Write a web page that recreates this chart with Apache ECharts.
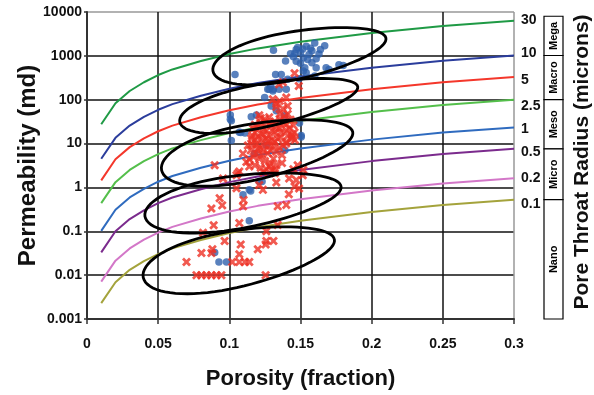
<!DOCTYPE html>
<html><head><meta charset="utf-8">
<script src="https://cdn.jsdelivr.net/npm/echarts@6/dist/echarts.min.js"></script>
<style>html,body{margin:0;padding:0;background:#fff}#c{width:594px;height:395px}</style>
</head><body><div id="c"></div>
<script>
// ---------- data ----------
const porosity = [0.01,0.02,0.03,0.04,0.05,0.06,0.08,0.10,0.12,0.15,0.20,0.25,0.30];
const radiusLabels = ['30','10','5','2.5','1','0.5','0.2','0.1'];
const perm30  = [27.5,83,158,250,365,490,760,1100,1480,2090,3310,4790,6300];
const perm10  = [4.5,13.5,25.7,40.7,58.9,79.4,123,178,240,339,537,776,1020];
const perm5   = [1.45,4.4,8.3,13.2,19.1,25.7,39.8,57.5,77.6,110,174,251,331];
const perm2_5 = [0.44,1.32,2.51,3.98,5.75,7.76,12.0,17.4,23.4,33.1,52.5,75.9,100];
const perm1   = [0.102,0.31,0.59,0.93,1.35,1.82,2.82,4.07,5.5,7.76,12.3,17.8,23.4];
const perm0_5 = [0.033,0.1,0.19,0.3,0.44,0.59,0.91,1.32,1.78,2.51,3.98,5.75,7.6];
const perm0_2 = [0.0071,0.0214,0.0407,0.0646,0.0933,0.126,0.195,0.282,0.38,0.537,0.851,1.23,1.62];
const perm0_1 = [0.0023,0.0069,0.0132,0.0209,0.0302,0.0407,0.0631,0.0912,0.123,0.174,0.275,0.398,0.525];

const xTickLabels = ['0','0.05','0.1','0.15','0.2','0.25','0.3'];
const yTickLabels = ['0.001','0.01','0.1','1','10','100','1000','10000'];

const zoneNames  = ['Mega','Macro','Meso','Micro','Nano'];
const zoneTop    = [8000,1020,100,7.6,0.525];
const zoneBottom = [1020,100,7.6,0.525,0.001];

const ellipseLeft  = [[0.0885,449],[0.0652,30.8],[0.0524,2.48],[0.0407,0.220],[0.0395,0.0089]];
const ellipseRight = [[0.210,2547],[0.1902,199],[0.1867,18.3],[0.1785,1.05],[0.1738,0.0653]];
const ellipseTop   = [[0.1493,3800],[0.1277,245],[0.1195,29.7],[0.1096,1.94],[0.1067,0.108]];

const bluePoints = [
 [0.104,378],[0.131,1340],[0.1395,760],[0.143,1110],[0.147,1390],[0.1516,1440],[0.154,1650],[0.156,1070],
 [0.160,1960],[0.167,1710],[0.147,755],[0.155,825],[0.161,855],[0.161,536],[0.153,536],[0.152,449],
 [0.168,536],[0.170,490],[0.177,630],[0.180,600],[0.1325,378],[0.1365,378],[0.141,292],[0.149,300],
 [0.154,413],[0.160,347],[0.150,1200],[0.158,1300],[0.145,950],[0.163,1100],[0.152,900],[0.148,1550],
 [0.157,1500],[0.150,680],[0.158,700],[0.164,1400],[0.146,1150],
 [0.127,173],[0.1306,159],[0.129,204],[0.128,174],[0.131,174],[0.135,174],[0.140,174],[0.1248,112],
 [0.1294,72],[0.133,56],[0.1007,45],[0.1007,36],[0.1154,41],[0.119,45],[0.1388,43],[0.1493,29.5],
 [0.1505,15.3],[0.107,18.2],[0.1014,33],[0.108,18],[0.111,17.4],[0.1014,11.8],[0.1505,14.2],
 [0.139,7.0],[0.126,9.1],[0.1178,5.9],[0.121,1.36],[0.123,1.36],[0.114,0.88],[0.1096,0.68],[0.115,0.83],
 [0.114,0.175],[0.0897,0.033],[0.0927,0.020],[0.098,0.020]
];
const redPoints = [
 [0.1458,400],[0.1488,205],[0.135,224],[0.1376,250],[0.1306,102],[0.133,80],[0.1353,94],[0.140,112],
 [0.141,72],[0.1376,62],[0.141,47],[0.133,68],[0.1353,47],[0.121,44],[0.1248,36],[0.1294,26],[0.1353,22],
 [0.140,20],[0.1458,18],[0.141,15],
 [0.1166,22],[0.1154,13],[0.118,18],[0.120,25],[0.122,30],[0.124,16],[0.126,20],[0.128,28],[0.130,12],
 [0.132,18],[0.134,24],[0.136,14],[0.138,30],[0.140,10],[0.142,22],[0.144,16],[0.146,12],[0.119,10],
 [0.121,8],[0.123,12],[0.125,9],[0.127,11],[0.129,7],[0.131,9],[0.133,6.5],[0.135,8],[0.137,5.5],
 [0.115,7],[0.117,5],[0.119,6],[0.121,4.5],[0.123,5.5],[0.125,4],[0.127,6],[0.129,3.5],[0.131,4.5],
 [0.133,3.2],[0.113,9],[0.116,15],[0.118,12],[0.120,14],[0.122,17],[0.124,22],[0.126,13],[0.128,15],
 [0.130,20],[0.132,11],[0.134,13],[0.136,18],[0.138,9],[0.1096,5.9],[0.112,3.8],[0.114,3],[0.118,3.2],
 [0.122,2.8],[0.126,2.6],[0.130,2.4],[0.114,4.4],[0.116,9.5],[0.124,7],[0.128,9],[0.120,7.5],[0.126,31],
 [0.118,27],[0.132,32],[0.128,40],[0.122,38],[0.136,36],[0.140,28],[0.143,35],[0.139,42],[0.145,26],
 [0.1446,14],[0.140,11],[0.1435,13],[0.124,2.2],[0.128,3],[0.137,3.6],[0.132,2.5],
 [0.1516,1.9],[0.147,1.48],[0.1458,1.05],[0.149,0.95],[0.142,1.6],[0.1418,0.70],[0.133,1.3],[0.121,1.14],
 [0.1236,0.88],[0.132,2.1],[0.148,3.2],[0.152,2.5],[0.145,2.6],
 [0.0897,3.2],[0.0956,1.6],[0.106,2.1],[0.105,1.9],[0.107,2.3],[0.105,0.96],[0.0932,0.57],[0.095,0.39],
 [0.0874,0.33],[0.110,0.52],[0.1096,0.37],[0.134,0.37],[0.140,0.40],[0.107,0.155],[0.089,0.138],
 [0.0815,0.093],[0.134,0.14],[0.126,0.10],[0.0967,0.060],[0.126,0.060],[0.131,0.060],[0.1255,0.050],
 [0.108,0.050],[0.120,0.039],[0.0874,0.032],[0.0881,0.039],[0.0804,0.032],[0.107,0.030],[0.0699,0.020],
 [0.102,0.020],[0.107,0.020],[0.111,0.020],[0.114,0.020],[0.0769,0.01],[0.0804,0.01],[0.0839,0.01],
 [0.0874,0.01],[0.0909,0.01],[0.0944,0.01],[0.1255,0.01]
];

// ---------- styling ----------
const FONT = "'Liberation Sans', Arial, sans-serif";
const permCurves = [perm30,perm10,perm5,perm2_5,perm1,perm0_5,perm0_2,perm0_1];
const curveColors = ['#1f9a45','#2b3d9c','#f4372b','#54bf4b','#2f6bbf','#7b2b8d','#d377c8','#a4a33c'];
const labelOffsets = [[0,-1],[0,-2],[0,3],[0,6],[0,2],[0,3],[0,0],[0,4]];
const X_SYMBOL = 'path://M0,2.2 L2.2,0 L5,2.8 L7.8,0 L10,2.2 L7.2,5 L10,7.8 L7.8,10 L5,7.2 L2.2,10 L0,7.8 L2.8,5 Z';

function renderEllipse(params, api){
  const i = params.dataIndex;
  const pL = api.coord(ellipseLeft[i]), pR = api.coord(ellipseRight[i]), pT = api.coord(ellipseTop[i]);
  const cx = (pL[0]+pR[0])/2, cy = (pL[1]+pR[1])/2;
  const dx = pR[0]-pL[0], dy = pR[1]-pL[1];
  const a = Math.hypot(dx,dy)/2;
  const ux = dx/(2*a), uy = dy/(2*a);
  const vx = -uy, vy = ux;
  const sn = Math.abs(uy), cs = Math.abs(ux);
  const h = Math.abs(cy - pT[1]);
  const b = cs/Math.sqrt(1/(h*h) - (sn*sn)/(a*a));
  const pts = [];
  for (let k=0;k<80;k++){
    const t = k/80*Math.PI*2;
    const s = b*Math.sin(t)*(1-0.15*Math.cos(t));
    pts.push([cx + a*Math.cos(t)*ux + s*vx, cy + a*Math.cos(t)*uy + s*vy]);
  }
  return {type:'polygon', shape:{points:pts}, style:{fill:'none', stroke:'#000', lineWidth:2.8}};
}

function renderZone(params, api){
  const i = params.dataIndex;
  const top = api.coord([0.3, zoneTop[i]])[1];
  const bot = api.coord([0.3, zoneBottom[i]])[1];
  const x0 = api.coord([0.3, 1])[0] + 30;
  return {type:'group', children:[
    {type:'rect', shape:{x:x0, y:top, width:19, height:bot-top}, style:{fill:'#fff', stroke:'#000', lineWidth:1.2}},
    {type:'text', x:x0+9.5, y:(top+bot)/2, rotation:Math.PI/2,
     style:{text:zoneNames[i], fill:'#000', font:'bold 11px '+FONT, align:'center', verticalAlign:'middle'}}
  ]};
}

const series = [];
permCurves.forEach((arr, ci) => {
  series.push({
    type:'line', name: radiusLabels[ci],
    data: porosity.map((p,i)=>[p, arr[i]]),
    showSymbol:false, silent:true,
    lineStyle:{color:curveColors[ci], width:2},
    endLabel:{show:true, formatter:radiusLabels[ci], color:'#111', fontSize:14, fontWeight:'bold',
      fontFamily:FONT, distance:7, offset:labelOffsets[ci]},
    z:2
  });
});
series.push({type:'scatter', data:bluePoints, symbol:'circle', symbolSize:7.5,
  itemStyle:{color:'#2f62ad'}, z:3});
series.push({type:'scatter', data:redPoints, symbol:X_SYMBOL, symbolSize:9,
  itemStyle:{color:'#ee3124'}, z:4});
series.push({type:'custom', data:ellipseLeft.map((p,i)=>[p[0],p[1]]), renderItem:renderEllipse, clip:false, z:5, silent:true});
series.push({type:'custom', data:zoneNames.map((n,i)=>[0.3, zoneTop[i]]), renderItem:renderZone, clip:false, z:5, silent:true});

const gridColX = ['#111','#111','#111','#111','#111','#111','#999'];
const gridColY = ['#111','#111','#111','#111','#111','#111','#111','#999'];

const option = {
  animation:false,
  backgroundColor:'#fff',
  grid:{left:87, right:80, top:12, bottom:73},
  xAxis:{
    type:'value', min:0, max:0.3, interval:0.05,
    name:'Porosity (fraction)', nameLocation:'middle', nameGap:49,
    nameTextStyle:{fontSize:22, fontWeight:'bold', color:'#111', fontFamily:FONT},
    axisLine:{show:true, lineStyle:{color:'#333', width:2}},
    axisTick:{show:true, length:5, lineStyle:{color:'#333', width:1.5}},
    axisLabel:{fontSize:14, fontWeight:'bold', color:'#111', fontFamily:FONT, margin:18,
      formatter:(v)=>xTickLabels[Math.round(v*20)]},
    splitLine:{show:true, lineStyle:{color:gridColX, width:1.5}}
  },
  yAxis:{
    type:'log', logBase:10, min:0.001, max:10000, splitNumber:7,
    name:'Permeability (md)', nameLocation:'middle', nameGap:47, nameRotate:90,
    nameMoveOverlap:false,
    nameTextStyle:{fontSize:24, fontWeight:'bold', color:'#111', fontFamily:FONT},
    axisLine:{show:true, lineStyle:{color:'#333', width:2}},
    axisTick:{show:true, length:3, lineStyle:{color:'#333', width:1.5}},
    axisLabel:{fontSize:14, fontWeight:'bold', color:'#111', fontFamily:FONT, margin:5,
      formatter:(v)=>yTickLabels[Math.round(Math.log10(v))+3]},
    splitLine:{show:true, lineStyle:{color:gridColY, width:1.5}},
    minorTick:{show:false}, minorSplitLine:{show:false}
  },
  graphic:[{
    type:'text', x:582, y:162, rotation:Math.PI/2,
    style:{text:'Pore Throat Radius (microns)', font:'bold 21px '+FONT, fill:'#111', align:'center', verticalAlign:'middle'}
  }],
  series:series
};
const chart = echarts.init(document.getElementById('c'));
chart.setOption(option);
</script>
</body></html>
